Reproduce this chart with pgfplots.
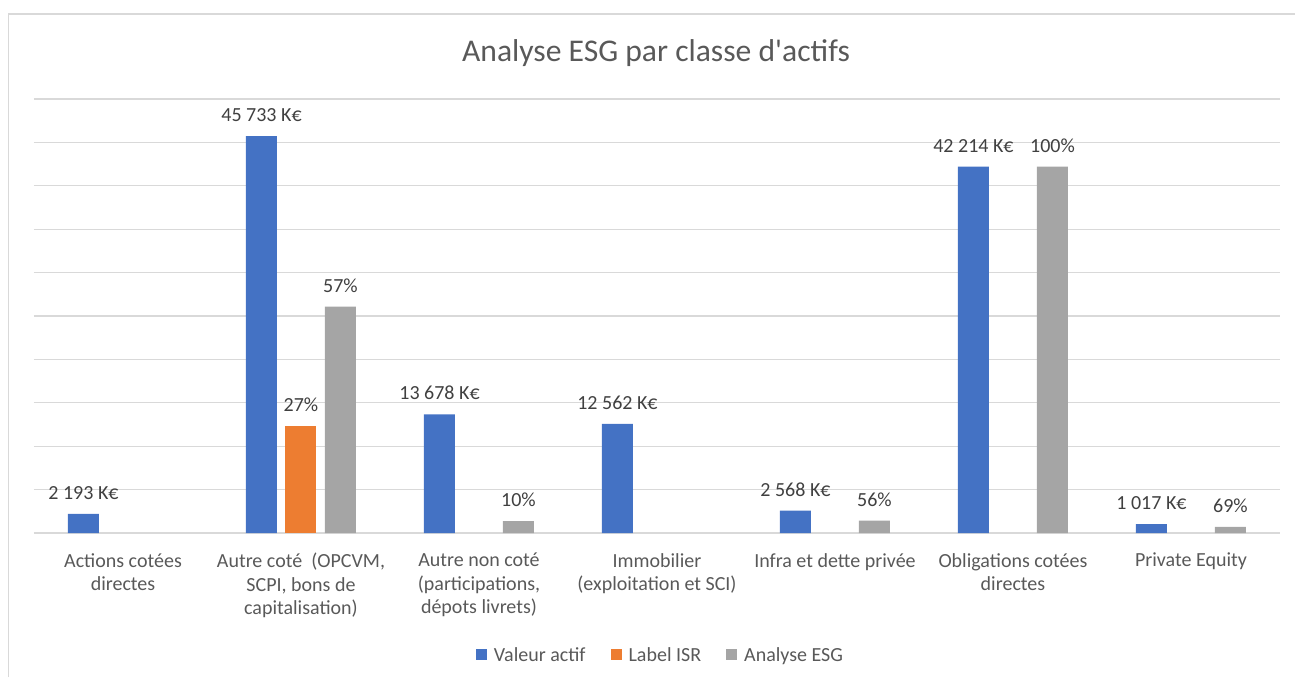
\documentclass[border=0pt]{standalone}
\usepackage{pgfplots}
\pgfplotsset{compat=1.18}
\usepackage{fontspec}
\setmainfont{Carlito}
\definecolor{cblue}{HTML}{4472C4}
\definecolor{corange}{HTML}{ED7D31}
\definecolor{cgray}{HTML}{A5A5A5}
\definecolor{gridc}{HTML}{D9D9D9}
\definecolor{txt}{HTML}{595959}
\definecolor{lbl}{HTML}{404040}
\newcommand{\lf}{\fontsize{20}{23.5}\selectfont}
\begin{document}
\begin{tikzpicture}[x=1pt,y=1pt]
\begin{axis}[scale only axis, width=1246pt, height=434pt,
 xmin=-0.5, xmax=6.5, ymin=0, ymax=50000,
 axis line style={draw=none},
 scaled y ticks=false,
 ytick={0,5000,...,50000}, ymajorgrids, major grid style={gridc, line width=1.2pt},
 yticklabel style={opacity=0},
 major tick length=0pt, tick style={draw=none},
 xtick={0,...,6},
 xticklabels={{Actions cotées\\directes},{Autre coté~ (OPCVM,\\SCPI, bons de\\capitalisation)},{Autre non coté\\(participations,\\dépots livrets)},{Immobilier\\(exploitation et SCI)},{Infra et dette privée},{Obligations cotées\\directes},{Private Equity}},
 xticklabel style={align=center, font=\lf, text=txt, anchor=north, inner sep=0pt, yshift=-20pt},
 ybar=8.5pt, bar width=31pt,
 nodes near coords, point meta=explicit symbolic,
 every node near coord/.append style={font=\lf, text=lbl, anchor=base, inner sep=0pt, yshift=14.5pt},
 legend columns=-1,
 legend cell align=left,
 legend style={draw=none, fill=none, at={(axis description cs:0.502,-0.281)}, anchor=center, font=\lf, text=txt, nodes={inner sep=0pt}, /tikz/every odd column/.append style={column sep=7pt}, /tikz/every even column/.append style={column sep=25pt}},
 legend image code/.code={\fill[#1] (0pt,-5.5pt) rectangle (11pt,5.5pt);},
 clip=false]
\addplot[fill=cblue, draw=none] coordinates {(0,2193)[2~193~K€] (1,45733)[45~733~K€] (2,13678)[13~678~K€] (3,12562)[12~562~K€] (4,2568)[2~568~K€] (5,42214)[42~214~K€] (6,1017)[1~017~K€]};
\addplot[fill=corange, draw=none] coordinates {(1,12348)[27\%]};
\addplot[fill=cgray, draw=none] coordinates {(1,26068)[57\%] (2,1368)[10\%] (4,1438)[56\%] (5,42214)[100\%] (6,702)[69\%]};
\legend{Valeur actif, Label ISR, Analyse ESG}
\coordinate (O) at (rel axis cs:0,0);
\end{axis}
\begin{scope}[shift={(O)}]
\draw[gridc, line width=1.2pt] (-25.5,-144) -- (-25.5,519) -- (1261,519);
\node[anchor=base, font=\fontsize{31.6}{38}\selectfont, text=txt, inner sep=0pt] at (622,471) {Analyse ESG par classe d\textquotesingle actifs};
\pgfresetboundingbox
\useasboundingbox (-34,-144) rectangle (1261,533);
\end{scope}
\end{tikzpicture}
\end{document}
